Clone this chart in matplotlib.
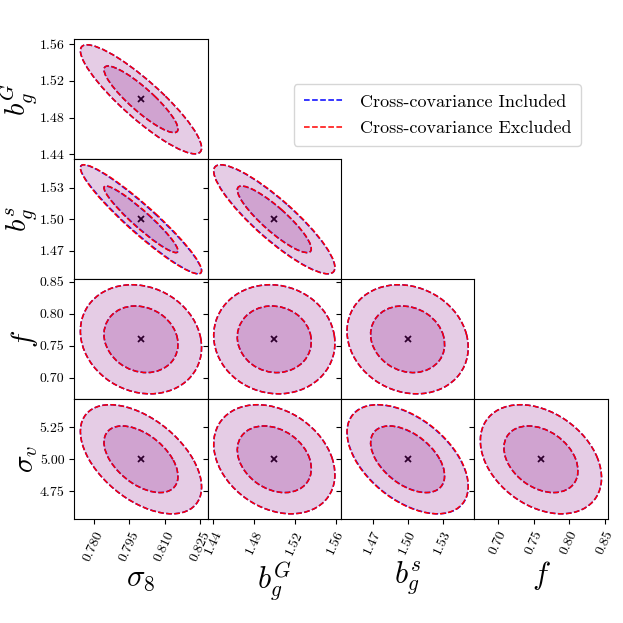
import numpy as np
import matplotlib
matplotlib.use("Agg")
import matplotlib.pyplot as plt
from matplotlib.patches import Ellipse
from matplotlib.lines import Line2D
from matplotlib.ticker import FixedLocator, FormatStrFormatter

plt.rcParams["font.family"] = "serif"
plt.rcParams["font.serif"] = ["cmr10"]
plt.rcParams["mathtext.fontset"] = "cm"
plt.rcParams["axes.unicode_minus"] = False
plt.rcParams["axes.formatter.use_mathtext"] = True

# parameters: sigma_8, b_g^G, b_g^s, f, sigma_v
param_labels = [r"$\sigma_8$", r"$b_g^G$", r"$b_g^s$", r"$f$", r"$\sigma_v$"]
fiducial = [0.80, 1.50, 1.50, 0.76, 5.00]
sigma = [0.0103, 0.0239, 0.0209, 0.0343, 0.1706]
ticks = [
    [0.780, 0.795, 0.810, 0.825],
    [1.44, 1.48, 1.52, 1.56],
    [1.47, 1.50, 1.53],
    [0.70, 0.75, 0.80, 0.85],
    [4.75, 5.00, 5.25],
]
tick_fmt = ["%.3f", "%.2f", "%.2f", "%.2f", "%.2f"]

# pairwise correlation coefficients
corr_excluded = [
    [1.00, -0.89, -0.94, -0.15, -0.51],
    [-0.89, 1.00, -0.88, -0.07, -0.28],
    [-0.94, -0.88, 1.00, -0.15, -0.49],
    [-0.15, -0.07, -0.15, 1.00, -0.34],
    [-0.51, -0.28, -0.49, -0.34, 1.00],
]
corr_included = [
    [1.00, -0.89, -0.945, -0.15, -0.51],
    [-0.89, 1.00, -0.885, -0.07, -0.28],
    [-0.945, -0.885, 1.00, -0.15, -0.50],
    [-0.15, -0.07, -0.15, 1.00, -0.34],
    [-0.51, -0.28, -0.50, -0.34, 1.00],
]

# delta chi^2 for 1 and 2 sigma in 2D
alphas = [np.sqrt(6.17), np.sqrt(2.30)]


def ellipse_params(corr, px, py, alpha):
    sx, sy = sigma[px], sigma[py]
    r = corr[px][py]
    cov = np.array([[sx**2, r * sx * sy], [r * sx * sy, sy**2]])
    vals, vecs = np.linalg.eigh(cov)
    angle = np.degrees(np.arctan2(vecs[1, 1], vecs[0, 1]))
    width = 2 * alpha * np.sqrt(vals[1])
    height = 2 * alpha * np.sqrt(vals[0])
    return width, height, angle


fig, axes = plt.subplots(4, 4, figsize=(6.23, 6.23), dpi=100)
fig.subplots_adjust(left=0.1193, right=0.9753, bottom=0.1665, top=0.9369,
                    wspace=0, hspace=0)

span = 1.1 * np.sqrt(6.17)

for i in range(4):
    py = i + 1
    for j in range(4):
        px = j
        ax = axes[i, j]
        if j > i:
            ax.axis("off")
            continue
        center = (fiducial[px], fiducial[py])
        ax.plot(*center, marker="x", color="k", ms=4.5, mew=1.3, zorder=1)
        for a in alphas:
            w, h, ang = ellipse_params(corr_excluded, px, py, a)
            ax.add_patch(Ellipse(center, w, h, angle=ang, facecolor="purple",
                                 alpha=0.2, edgecolor="none", zorder=2))
        for corr, col in [(corr_included, "blue"), (corr_excluded, "red")]:
            for a in alphas:
                w, h, ang = ellipse_params(corr, px, py, a)
                ax.add_patch(Ellipse(center, w, h, angle=ang, fill=False,
                                     edgecolor=col, ls="--", lw=1.1, zorder=3))
        ax.set_xlim(fiducial[px] - span * sigma[px], fiducial[px] + span * sigma[px])
        ax.set_ylim(fiducial[py] - span * sigma[py], fiducial[py] + span * sigma[py])
        ax.xaxis.set_major_locator(FixedLocator(ticks[px]))
        ax.yaxis.set_major_locator(FixedLocator(ticks[py]))
        ax.xaxis.set_major_formatter(FormatStrFormatter(tick_fmt[px]))
        ax.yaxis.set_major_formatter(FormatStrFormatter(tick_fmt[py]))
        ax.tick_params(labelsize=10)
        if i == 3:
            ax.set_xlabel(param_labels[px], fontsize=22, labelpad=2)
            for lab in ax.get_xticklabels():
                lab.set_rotation(65)
        else:
            ax.set_xticklabels([])
        if j == 0:
            ax.set_ylabel(param_labels[py], fontsize=21)
            ax.yaxis.set_label_coords(-0.26, 0.5)
        else:
            ax.set_yticklabels([])

handles = [Line2D([], [], color="blue", ls="--", lw=1.1),
           Line2D([], [], color="red", ls="--", lw=1.1)]
fig.legend(handles, ["Cross-covariance Included", "Cross-covariance Excluded"],
           loc="upper right", bbox_to_anchor=(0.9326, 0.8652), fontsize=13,
           borderaxespad=0, borderpad=0.55, labelspacing=0.6,
           handlelength=2.2, handletextpad=0.9)

fig.savefig("out.png", dpi=100)
